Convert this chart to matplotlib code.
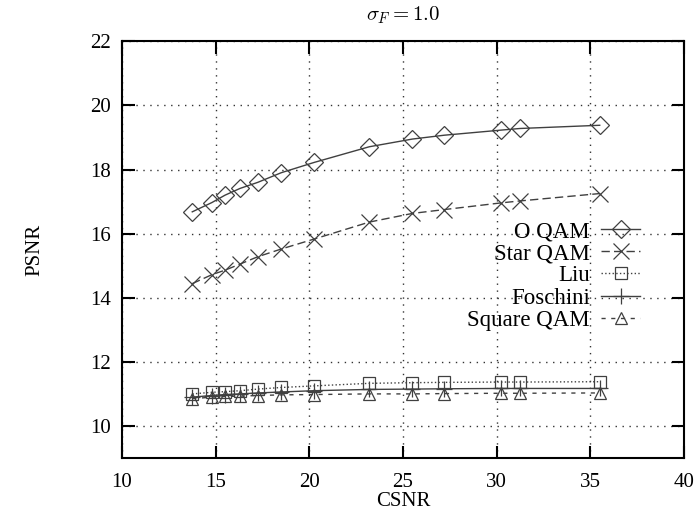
import matplotlib.pyplot as plt

plt.rcParams['font.family'] = ['Liberation Serif', 'DejaVu Serif']
plt.rcParams['mathtext.fontset'] = 'cm'

# CSNR values (shared by all curves)
csnr = [13.75, 14.8, 15.5, 16.3, 17.25, 18.5, 20.25, 23.2, 25.5, 27.2, 30.25, 31.25, 35.5]

o_qam = [16.68, 16.97, 17.2, 17.41, 17.6, 17.9, 18.22, 18.71, 18.95, 19.07, 19.23, 19.28, 19.38]
star_qam = [14.44, 14.72, 14.86, 15.05, 15.28, 15.52, 15.83, 16.36, 16.63, 16.75, 16.96, 17.02, 17.25]
liu = [11.0, 11.05, 11.07, 11.1, 11.15, 11.2, 11.25, 11.33, 11.35, 11.36, 11.37, 11.37, 11.38]
foschini = [10.9, 10.95, 10.98, 11.0, 11.03, 11.06, 11.1, 11.14, 11.15, 11.16, 11.17, 11.17, 11.17]
square_qam = [10.85, 10.9, 10.92, 10.93, 10.95, 10.97, 10.98, 11.0, 11.0, 11.01, 11.02, 11.02, 11.03]

labels = ['O QAM', 'Star QAM', 'Liu', 'Foschini', 'Square QAM']
xticks = [10, 15, 20, 25, 30, 35, 40]
yticks = [10, 12, 14, 16, 18, 20, 22]

fig = plt.figure(figsize=(6.96, 5.2), dpi=100)
ax = fig.add_axes([0.1753, 0.1192, 0.8075, 0.8014])

c = '#404040'
ax.plot(csnr, o_qam, color=c, lw=1.0, ls='-', marker='D', ms=9, mfc='none', mec=c, mew=0.9, label=labels[0])
ax.plot(csnr, star_qam, color=c, lw=1.0, ls=(0, (6, 3)), marker='x', ms=12, mec=c, mew=0.9, label=labels[1])
ax.plot(csnr, liu, color=c, lw=1.0, ls=':', marker='s', ms=9, mfc='none', mec=c, mew=0.9, label=labels[2])
ax.plot(csnr, foschini, color=c, lw=1.0, ls='-', marker='+', ms=12, mec=c, mew=0.9, label=labels[3])
ax.plot(csnr, square_qam, color=c, lw=1.0, ls=(0, (3, 4)), marker='^', ms=8, mfc='none', mec=c, mew=0.9, label=labels[4])

ax.set_xlim(10, 40)
ax.set_ylim(9, 22)
ax.set_xticks(xticks)
ax.set_yticks(yticks)
ax.tick_params(direction='in', length=9, width=1.5, top=True, right=True, labelsize=15)
ax.tick_params(axis='x', pad=11)
ax.tick_params(axis='y', pad=8)
ax.grid(True, ls=(0, (1, 4)), color='#333333', lw=1.0)
for s in ax.spines.values():
    s.set_linewidth(1.5)

ax.set_xlabel('CSNR', fontsize=15, labelpad=0)
ax.set_ylabel('PSNR', fontsize=15, labelpad=33)
ax.set_title(r'$\sigma_F = 1.0$', fontsize=15, pad=15)

fig.legend(loc='upper right', bbox_to_anchor=(640 / 696, (520 - 221) / 520), frameon=False,
           markerfirst=False, fontsize=16.5, handlelength=1.7, handletextpad=0.5,
           labelspacing=0.05, borderpad=0, borderaxespad=0)

fig.savefig('out.png', dpi=100)
